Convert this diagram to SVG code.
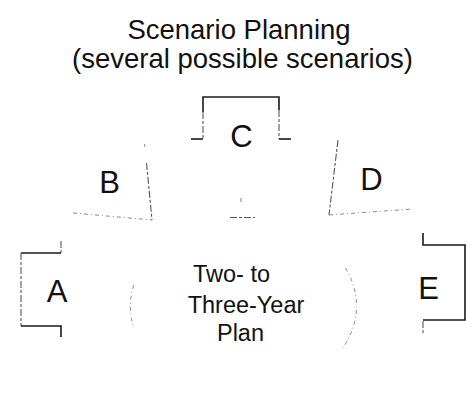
<svg xmlns="http://www.w3.org/2000/svg" width="470" height="394" viewBox="0 0 470 394">
  <style>
    text { font-family: "Liberation Sans", Arial, Helvetica, sans-serif; fill: #111; text-anchor: middle; }
    .title { font-size: 27.5px; }
    .letter { font-size: 31px; }
    .plan { font-size: 23.5px; }
    .solid { fill: none; stroke: #1a1a1a; stroke-width: 1.6; }
    .faint { fill: none; stroke: #555; stroke-width: 1.1; stroke-dasharray: 7 2 3 2; }
    .ghost { fill: none; stroke: #8a8a8a; stroke-width: 1; stroke-dasharray: 4 3 1 3; }
  </style>
  <rect width="470" height="394" fill="#fff"/>

  <!-- heading -->
  <g id="title">
    <text class="title" x="239" y="39">Scenario Planning</text>
    <text class="title" x="242.5" y="68">(several possible scenarios)</text>
  </g>

  <!-- central plan: fragments of an ellipse -->
  <g id="plan">
    <path class="ghost" d="M133.8,285 A113,88 0 0 0 133.8,328"/>
    <path class="ghost" d="M345.4,268 A113,88 0 0 1 342.8,348"/>
    <line class="faint" x1="230" y1="217.5" x2="255" y2="217.5"/>
    <line class="ghost" x1="241" y1="198" x2="241" y2="203"/>
    <text class="plan" x="231.5" y="282">Two- to</text>
    <text class="plan" x="246" y="313">Three-Year</text>
    <text class="plan" x="240.5" y="340.5">Plan</text>
  </g>

  <!-- scenario A: left bracket -->
  <g id="scenario-a">
    <path class="faint" d="M61,241 L61,253"/>
    <path class="solid" d="M61,253 L21,253"/>
    <path class="faint" d="M21,253 L21,326"/>
    <path class="solid" d="M21,326 L61,326 L61,337"/>
    <text class="letter" x="57" y="302">A</text>
  </g>

  <!-- scenario B: slanted segment -->
  <g id="scenario-b">
    <line class="ghost" x1="144.5" y1="144" x2="145" y2="147"/>
    <line class="faint" x1="146.5" y1="163" x2="152" y2="220"/>
    <line class="ghost" x1="73" y1="213" x2="152" y2="220"/>
    <text class="letter" x="109.5" y="193">B</text>
  </g>

  <!-- scenario C: top box -->
  <g id="scenario-c">
    <path class="solid" d="M203,112 L203,97 L279,97 L279,110"/>
    <path class="faint" d="M203,112 L203,139"/>
    <path class="faint" d="M279,110 L279,139"/>
    <path class="solid" d="M191,139 L203,139"/>
    <path class="solid" d="M279,139 L291,139"/>
    <text class="letter" x="241.5" y="147">C</text>
  </g>

  <!-- scenario D: slanted segment -->
  <g id="scenario-d">
    <line class="faint" x1="338" y1="140" x2="329" y2="215"/>
    <line class="ghost" x1="329" y1="215" x2="412" y2="209"/>
    <text class="letter" x="371.5" y="190">D</text>
  </g>

  <!-- scenario E: right bracket -->
  <g id="scenario-e">
    <path class="solid" d="M423,233 L423,245 L465,245 L465,320 L423,320"/>
    <path class="faint" d="M423,321 L423,333"/>
    <text class="letter" x="428.5" y="299">E</text>
  </g>
</svg>
